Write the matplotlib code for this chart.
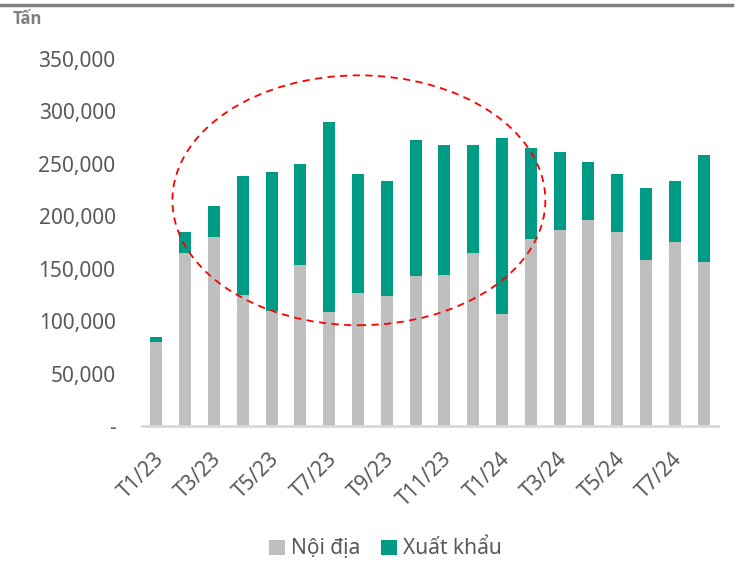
import numpy as np
import matplotlib
matplotlib.use('Agg')
import matplotlib.pyplot as plt
import matplotlib.transforms as mtransforms
from matplotlib.patches import Ellipse
from matplotlib.ticker import FuncFormatter

plt.rcParams['font.family'] = ['Noto Sans', 'DejaVu Sans']

months = ['T1/23', 'T2/23', 'T3/23', 'T4/23', 'T5/23', 'T6/23', 'T7/23', 'T8/23',
          'T9/23', 'T10/23', 'T11/23', 'T12/23', 'T1/24', 'T2/24', 'T3/24', 'T4/24',
          'T5/24', 'T6/24', 'T7/24', 'T8/24']
noi_dia = [80000, 165000, 180000, 125000, 110000, 153000, 109000, 127000, 124000, 143000,
           144000, 165000, 107000, 178000, 187000, 196000, 185000, 158000, 175000, 156000]
tong = [85000, 185000, 210000, 238000, 242000, 250000, 290000, 240000, 233000, 272000,
        268000, 268000, 274000, 265000, 261000, 251000, 240000, 227000, 233000, 258000]
xuat_khau = [t - n for t, n in zip(tong, noi_dia)]

gray = '#BFBFBF'
teal = '#009B85'
text_col = '#595959'

fig = plt.figure(figsize=(7.38, 5.63), dpi=100)
ax = fig.add_axes([0.1924, 0.2433, 0.7805, 0.6527])

x = np.arange(len(months))
ax.bar(x, noi_dia, width=0.42, color=gray, label='Nội địa', zorder=2)
ax.bar(x, xuat_khau, width=0.42, bottom=noi_dia, color=teal, label='Xuất khẩu', zorder=2)

ax.set_xlim(-0.5, len(months) - 0.5)
ax.set_ylim(0, 350000)
ax.set_yticks(np.arange(0, 350001, 50000))
ax.yaxis.set_major_formatter(FuncFormatter(lambda v, p: '-' if v == 0 else f'{int(v):,}'))
ax.set_xticks(x[::2])
ax.set_xticklabels(months[::2], rotation=45, ha='right', rotation_mode='anchor')
ax.tick_params(axis='both', length=0, labelsize=15, labelcolor=text_col)
ax.tick_params(axis='y', pad=19)
ax.tick_params(axis='x', pad=16)
shift = mtransforms.ScaledTranslation(-3 / 100, 0, fig.dpi_scale_trans)
for lbl in ax.get_xticklabels():
    lbl.set_transform(lbl.get_transform() + shift)

for s in ['top', 'right', 'left']:
    ax.spines[s].set_visible(False)
ax.spines['bottom'].set_color('#D9D9D9')
ax.spines['bottom'].set_linewidth(2)

# red dashed ellipse highlight
ell = Ellipse((7.03, 215000), 12.95, 238000, fill=False, edgecolor='#FF0000',
              linestyle=(0, (4, 3)), linewidth=1.3, zorder=3, clip_on=False)
ax.add_patch(ell)

fig.text(0.017, 0.966, 'Tấn', fontsize=12, fontweight='bold', color='#7F7F7F',
         family=['Open Sans', 'DejaVu Sans'], ha='left', va='center')
fig.add_artist(plt.Line2D([0, 0.992], [0.992, 0.992], color='#808080', linewidth=2.5,
                          transform=fig.transFigure))

fig.legend(loc='center', bbox_to_anchor=(0.522, 0.025), ncol=2, frameon=False,
           fontsize=15, labelcolor=text_col, handlelength=0.75, handleheight=0.75,
           handletextpad=0.3, columnspacing=1.0)

fig.savefig('out.png', dpi=100)
